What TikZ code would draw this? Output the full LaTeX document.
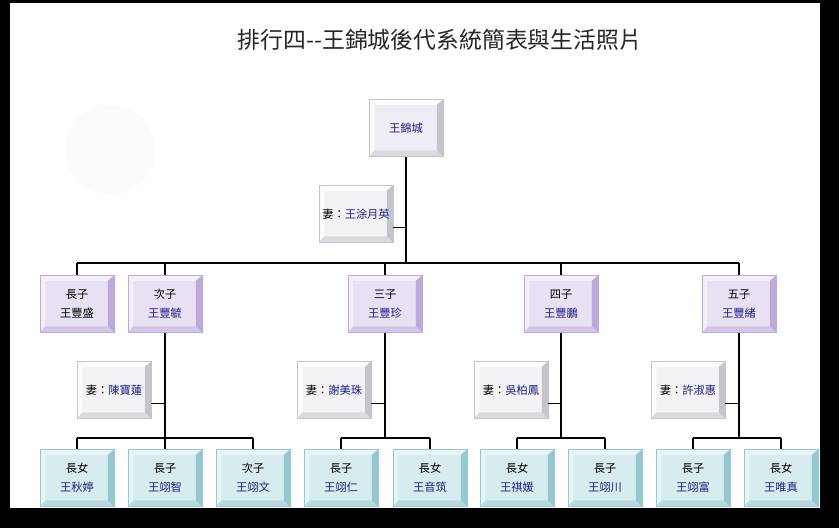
\documentclass[tikz,border=0pt]{standalone}
\usepackage{fontspec}
\newfontfamily\cjk{Noto Sans CJK TC}
\usetikzlibrary{positioning}
\definecolor{NameBlue}{RGB}{30,30,140}
\definecolor{RootFace}{RGB}{238,236,244}
\definecolor{SonFace}{RGB}{232,224,243}
\definecolor{SonLite}{RGB}{243,238,249}
\definecolor{SonSide}{RGB}{190,170,218}
\definecolor{SonBase}{RGB}{212,198,232}
\definecolor{KidFace}{RGB}{214,236,238}
\definecolor{KidLite}{RGB}{231,245,246}
\definecolor{KidSide}{RGB}{150,200,207}
\definecolor{KidBase}{RGB}{182,220,225}
\definecolor{WifeFace}{RGB}{243,243,246}
\definecolor{WifeLite}{RGB}{252,252,253}
\definecolor{WifeSide}{RGB}{196,196,204}
\definecolor{WifeBase}{RGB}{218,218,225}

\begin{document}
\begin{tikzpicture}[x=0.02cm, y=-0.02cm,
    bevel/.style n args={4}{fill=#1, draw=#3, line width=0.3pt, path picture={
      \fill[#2] (path picture bounding box.north west) -- (path picture bounding box.north east)
        -- ([shift={(-3.5pt,-3pt)}]path picture bounding box.north east)
        -- ([shift={(3pt,-3pt)}]path picture bounding box.north west) -- cycle;
      \fill[#2] (path picture bounding box.north west) -- ([shift={(3pt,-3pt)}]path picture bounding box.north west)
        -- ([shift={(3pt,3.5pt)}]path picture bounding box.south west) -- (path picture bounding box.south west) -- cycle;
      \fill[#3] (path picture bounding box.north east) -- (path picture bounding box.south east)
        -- ([shift={(-3.5pt,3.5pt)}]path picture bounding box.south east)
        -- ([shift={(-3.5pt,-3pt)}]path picture bounding box.north east) -- cycle;
      \fill[#4] (path picture bounding box.south west) -- (path picture bounding box.south east)
        -- ([shift={(-3.5pt,3.5pt)}]path picture bounding box.south east)
        -- ([shift={(3pt,3.5pt)}]path picture bounding box.south west) -- cycle;
    }},
    nbox/.style={rectangle, minimum width=1.48cm, minimum height=1.14cm, inner sep=0pt,
                 align=center, font=\cjk\fontsize{6.4}{10.8}\selectfont},
    rootbox/.style={nbox, bevel={RootFace}{WifeLite}{WifeSide}{WifeBase}},
    sonbox/.style={nbox, bevel={SonFace}{SonLite}{SonSide}{SonBase}},
    kidbox/.style={nbox, bevel={KidFace}{KidLite}{KidSide}{KidBase}},
    wifebox/.style={nbox, bevel={WifeFace}{WifeLite}{WifeSide}{WifeBase}},
    link/.style={draw=black, line width=0.6pt}
  ]
  % frame
  \fill[black] (0,0) rectangle (839,528);
  \fill[white] (10,3) rectangle (820,508);
  \fill[gray!3] (110,150) circle (45);

  \node[font=\cjk\fontsize{13}{16}\selectfont, text=black!85] (title) at (440,40)
       {排行四--王錦城後代系統簡表與生活照片};

  % generation 1
  \node[rootbox] (root) at (406,128) {\textcolor{NameBlue}{王錦城}};
  \node[wifebox] (w0)   at (356,214) {妻：\textcolor{NameBlue}{王涂月英}};

  % generation 2
  \node[sonbox] (s1) at (77,304)  {長子\\王豐盛};
  \node[sonbox] (s2) at (165,304) {次子\\\textcolor{NameBlue}{王豐毓}};
  \node[sonbox] (s3) at (385,304) {三子\\\textcolor{NameBlue}{王豐珍}};
  \node[sonbox] (s4) at (561,304) {四子\\\textcolor{NameBlue}{王豐鵬}};
  \node[sonbox] (s5) at (739,304) {五子\\\textcolor{NameBlue}{王豐緒}};

  \node[wifebox] (w2) at (114,390) {妻：\textcolor{NameBlue}{陳寶蓮}};
  \node[wifebox] (w3) at (334,390) {妻：\textcolor{NameBlue}{謝美珠}};
  \node[wifebox] (w4) at (511,390) {妻：\textcolor{NameBlue}{吳柏鳳}};
  \node[wifebox] (w5) at (688,390) {妻：\textcolor{NameBlue}{許淑惠}};

  % generation 3
  \node[kidbox] (k21) at (77,478)  {長女\\\textcolor{NameBlue}{王秋婷}};
  \node[kidbox] (k22) at (165,478) {長子\\\textcolor{NameBlue}{王翊智}};
  \node[kidbox] (k23) at (253,478) {次子\\\textcolor{NameBlue}{王翊文}};
  \node[kidbox] (k31) at (341,478) {長子\\\textcolor{NameBlue}{王翊仁}};
  \node[kidbox] (k32) at (430,478) {長女\\\textcolor{NameBlue}{王音筑}};
  \node[kidbox] (k41) at (517,478) {長女\\\textcolor{NameBlue}{王祺媛}};
  \node[kidbox] (k42) at (605,478) {長子\\\textcolor{NameBlue}{王翊川}};
  \node[kidbox] (k51) at (693,478) {長子\\\textcolor{NameBlue}{王翊富}};
  \node[kidbox] (k52) at (781,478) {長女\\\textcolor{NameBlue}{王唯真}};

  % connectors
  \coordinate (bus) at (406,263);
  \draw[link] (root.south) -- (bus);
  \draw[link] ([yshift=0.3cm]w0.south east) -- ([yshift=0.3cm]w0.south east -| root.south);
  \draw[link] (s1.north |- bus) -- (s5.north |- bus);
  \foreach \s in {s1,s2,s3,s4,s5}{
    \draw[link] (\s.north) -- (\s.north |- bus);
  }

  \coordinate (kbus) at (406,438);
  \foreach \s/\w/\a/\b in {s2/w2/k21/k23, s3/w3/k31/k32, s4/w4/k41/k42, s5/w5/k51/k52}{
    \draw[link] (\s.south) -- (\s.south |- kbus);
    \draw[link] ([yshift=0.3cm]\w.south east) -- ([yshift=0.3cm]\w.south east -| \s.south);
    \draw[link] (\a.north |- kbus) -- (\b.north |- kbus);
  }
  \foreach \k in {k21,k22,k23,k31,k32,k41,k42,k51,k52}{
    \draw[link] (\k.north) -- (\k.north |- kbus);
  }
\end{tikzpicture}
\end{document}
